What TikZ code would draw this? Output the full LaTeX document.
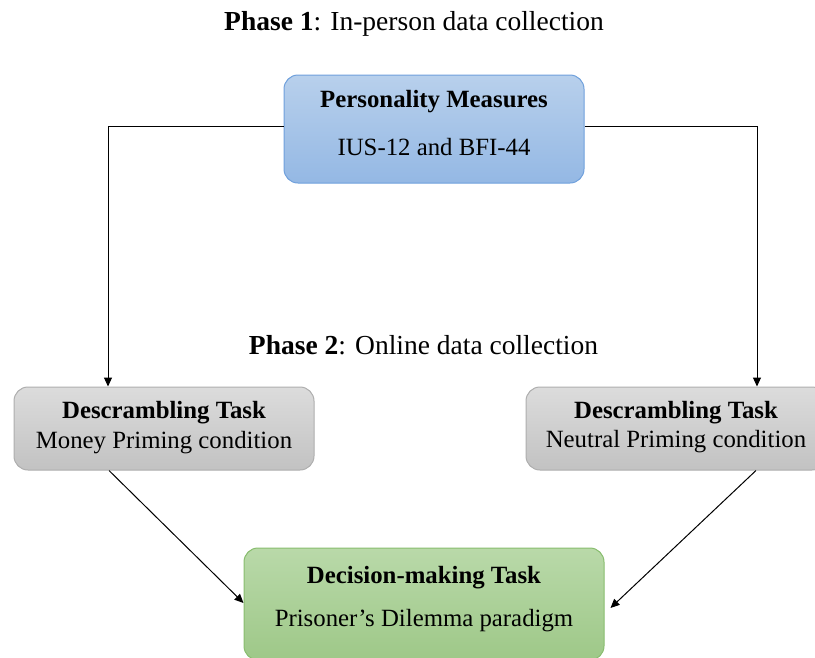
\documentclass[tikz,border=0pt]{standalone}
\usepackage{fontspec}
\setmainfont{Liberation Serif}
\usetikzlibrary{arrows.meta}
\definecolor{bluetop}{HTML}{B8D0EC}
\definecolor{bluebot}{HTML}{94B8E4}
\definecolor{blueedge}{HTML}{6FA0DC}
\definecolor{graytop}{HTML}{DCDCDC}
\definecolor{graybot}{HTML}{C2C2C2}
\definecolor{grayedge}{HTML}{AEAEAE}
\definecolor{greentop}{HTML}{B9D9A9}
\definecolor{greenbot}{HTML}{9EC888}
\definecolor{greenedge}{HTML}{88BD6E}
\tikzset{
  box/.style={rectangle, rounded corners=14pt, line width=1pt, inner sep=0pt},
  bluebox/.style={box, draw=blueedge, top color=bluetop, bottom color=bluebot},
  graybox/.style={box, draw=grayedge, top color=graytop, bottom color=graybot},
  greenbox/.style={box, draw=greenedge, top color=greentop, bottom color=greenbot},
  txt/.style={inner sep=0pt, font=\fontsize{24.8}{29}\selectfont},
  head/.style={inner sep=0pt, font=\fontsize{27.5}{32}\selectfont},
  arr/.style={line width=1pt, -{Triangle[length=9pt,width=8pt]}},
}
\begin{document}
\begin{tikzpicture}[x=1pt,y=-1pt]
\useasboundingbox (0,0) rectangle (815,657);
\clip (0,0) rectangle (815,657);

% headings
\node[head] (ph1) at (414,24) {\textbf{Phase 1}: In-person data collection};
\node[head] (ph2) at (423.5,345) {\textbf{Phase 2}: Online data collection};

% boxes
\node[bluebox, minimum width=300pt, minimum height=108pt] (pm) at (434,129) {};
\node[graybox, minimum width=300pt, minimum height=83pt] (dl) at (164,428.5) {};
\node[graybox, minimum width=300pt, minimum height=83pt] (dr) at (676,428.5) {};
\node[greenbox, minimum width=360pt, minimum height=112pt] (dm) at (424,604) {};

% box texts
\node[txt] (pm1) at (434,102) {\textbf{Personality Measures}};
\node[txt] (pm2) at (434,147) {IUS-12 and BFI-44};
\node[txt] (dl1) at (164,413) {\textbf{Descrambling Task}};
\node[txt] (dl2) at (164,443) {Money Priming condition};
\node[txt] (dr1) at (676,413) {\textbf{Descrambling Task}};
\node[txt] (dr2) at (676,442) {Neutral Priming condition};
\node[txt] (dm1) at (424,578) {\textbf{Decision-making Task}};
\node[txt] (dm2) at (424,621) {Prisoner’s Dilemma paradigm};

% connectors
\draw[arr] ([yshift=3pt]pm.west) -| ([xshift=-56pt]dl.north);
\draw[arr] ([yshift=3pt]pm.east) -| ([xshift=81pt]dr.north);
\draw[arr] ([xshift=-55pt]dl.south) -- ([yshift=1pt]dm.west);
\draw[arr] ([xshift=80pt]dr.south) -- ([yshift=-4pt,xshift=6pt]dm.east);
\end{tikzpicture}
\end{document}
